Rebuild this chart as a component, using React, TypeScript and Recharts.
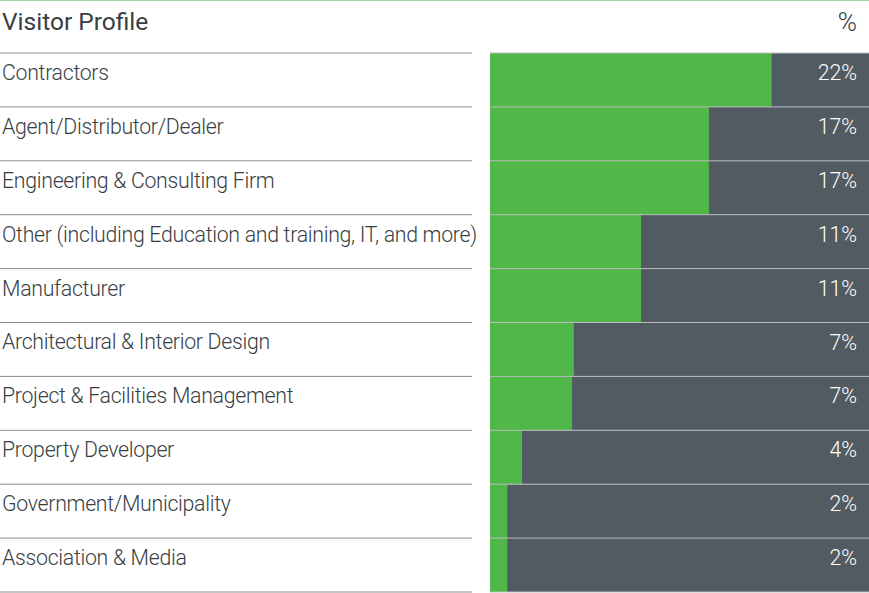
import { Bar, BarChart, LabelList, XAxis, YAxis } from 'recharts'

const categories = [
  'Contractors',
  'Agent/Distributor/Dealer',
  'Engineering & Consulting Firm',
  'Other (including Education and training, IT, and more)',
  'Manufacturer',
  'Architectural & Interior Design',
  'Project & Facilities Management',
  'Property Developer',
  'Government/Municipality',
  'Association & Media',
]
// bar lengths as drawn (the printed labels are rounded)
const barValues = [22, 17.1, 17.1, 11.8, 11.8, 6.55, 6.4, 2.5, 1.35, 1.35]
const percentLabels = ['22%', '17%', '17%', '11%', '11%', '7%', '7%', '4%', '2%', '2%']
const axisMax = 29.6

const data = categories.map((name, i) => ({ name, value: barValues[i], label: percentLabels[i] }))

const FONT = 'Roboto, "Noto Sans", sans-serif'
const TEXT = '#384043'
const W = 869
const H = 593
const TOP = 53
const ROW = (H - 1 - TOP) / categories.length

function CategoryTick(props: any) {
  const { y, payload, index } = props
  const top = y - ROW / 2
  const last = index === categories.length - 1
  return (
    <g>
      <text x={2} y={y} fill={TEXT} fontSize={21.3} fontWeight={300} fontFamily={FONT} letterSpacing={-0.3}>
        {payload.value}
      </text>
      <line x1={0} x2={472} y1={top} y2={top} stroke="#8c8c8c" strokeWidth={1} />
      <line x1={490} x2={W} y1={top} y2={top} stroke="#b9bdc0" strokeWidth={1} />
      {last && <line x1={0} x2={472} y1={top + ROW} y2={top + ROW} stroke="#8c8c8c" strokeWidth={1} />}
      {last && <line x1={490} x2={W} y1={top + ROW} y2={top + ROW} stroke="#b9bdc0" strokeWidth={1} />}
    </g>
  )
}

function PercentLabel(props: any) {
  const { y, height, value } = props
  return (
    <text
      x={857}
      y={y + height / 2}
      textAnchor="end"
      fill="#ffffff"
      fontSize={21.3}
      fontWeight={300}
      fontFamily={FONT}
    >
      {value}
    </text>
  )
}

export default function App() {
  return (
    <div style={{ position: 'fixed', left: 0, top: 0, width: W, height: H, background: '#fff' }}>
      <div style={{ position: 'absolute', left: 0, top: 0, width: W, height: 1, background: '#a3dc9f' }} />
      <div
        style={{
          position: 'absolute',
          left: 2,
          top: 8,
          fontFamily: FONT,
          fontSize: 24.5,
          fontWeight: 400,
          color: TEXT,
          lineHeight: '28px',
        }}
      >
        Visitor Profile
      </div>
      <div
        style={{
          position: 'absolute',
          right: 12,
          top: 8,
          fontFamily: FONT,
          fontSize: 26,
          fontWeight: 300,
          color: TEXT,
          lineHeight: '28px',
        }}
      >
        %
      </div>
      <BarChart
        width={W}
        height={H}
        data={data}
        layout="vertical"
        margin={{ top: TOP, right: 0, left: 0, bottom: 1 }}
        barCategoryGap={0}
      >
        <XAxis type="number" hide domain={[0, axisMax]} />
        <YAxis
          type="category"
          dataKey="name"
          width={490}
          axisLine={false}
          tickLine={false}
          interval={0}
          tick={<CategoryTick />}
        />
        <Bar dataKey="value" fill="#50b848" background={{ fill: '#525b61' }} isAnimationActive={false}>
          <LabelList dataKey="label" content={<PercentLabel />} />
        </Bar>
      </BarChart>
    </div>
  )
}
